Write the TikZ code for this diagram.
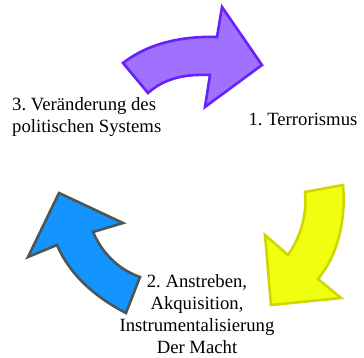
\documentclass[tikz,border=0pt]{standalone}
\usepackage{fontspec}
\setmainfont{Liberation Serif}
\usetikzlibrary{positioning}
\frenchspacing
\definecolor{purpfill}{RGB}{160,112,255}
\definecolor{purpline}{RGB}{102,34,250}
\definecolor{yelfill}{RGB}{240,255,16}
\definecolor{yelline}{RGB}{206,216,0}
\definecolor{blufill}{RGB}{20,148,255}
\definecolor{bluline}{RGB}{74,86,88}
\tikzset{blockarr/.style 2 args={draw=#1, fill=#2, line width=2.6pt, line join=miter}}
\tikzset{lbl/.style={inner sep=0pt, font=\fontsize{18.7}{22}\selectfont}}

\begin{document}
\begin{tikzpicture}[x=1pt, y=-1pt]
			\useasboundingbox (0,0) rectangle (364,358);
			% the three cycle arrows
			\draw[blockarr={purpline}{purpfill}] (123,63) .. controls (150,42) and (185,36) .. (217,37)
				-- (222,7) -- (262,65) -- (205,107) -- (210,75)
				.. controls (185,74) and (165,78) .. (148,93) -- cycle;
			\draw[blockarr={yelline}{yelfill}] (305,192) -- (343,185)
				.. controls (346,220) and (338,255) .. (318,279)
				-- (341,298) -- (271,305) -- (265,235) -- (288,255)
				.. controls (302,235) and (307,212) .. (305,192) -- cycle;
			\draw[blockarr={bluline}{blufill}] (59,193) -- (123,223) -- (93,232)
				.. controls (103,255) and (120,270) .. (140,277)
				-- (126,313) .. controls (95,297) and (70,275) .. (57,245)
				-- (28,257) -- cycle;
			%
			\node[lbl] (terror) at (303,119) {1. Terrorismus};
			\node[lbl, anchor=base, align=center] (power) at (197,353)
				{2. Anstreben,\\Akquisition,\\Instrumentalisierung\\Der Macht};
			\node[lbl, anchor=base west, align=left] (change) at (12,133)
				{3. Veränderung des\\politischen Systems};
\end{tikzpicture}
\end{document}
